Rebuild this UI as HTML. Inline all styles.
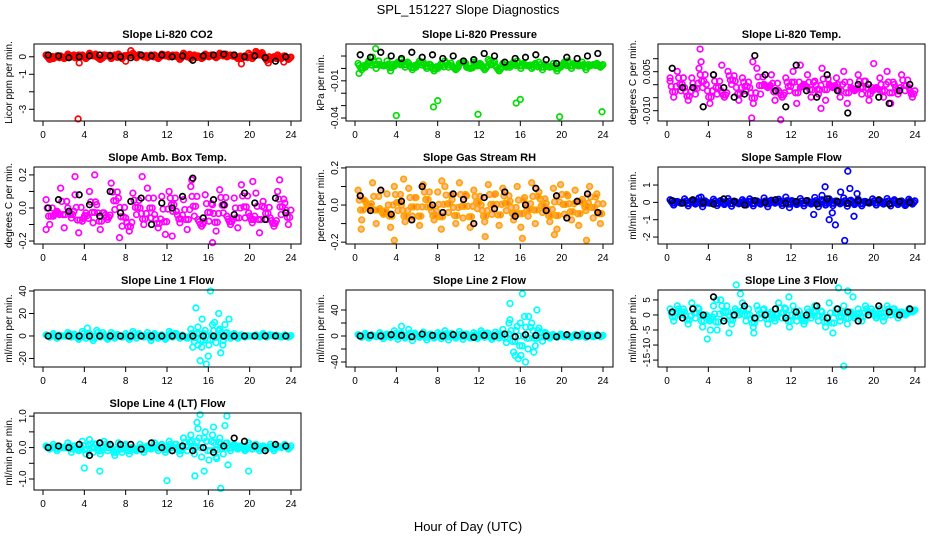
<!DOCTYPE html>
<html><head><meta charset="utf-8"><style>
body{margin:0;background:#fff;}
svg{display:block;font-family:"Liberation Sans",sans-serif;}
</style></head><body>
<svg id="chart" width="936" height="540" viewBox="0 0 936 540" xmlns="http://www.w3.org/2000/svg">
<rect width="936" height="540" fill="#fff"/>
<text x="468" y="14" font-size="13" text-anchor="middle">SPL_151227  Slope Diagnostics</text>
<text x="468" y="531" font-size="13" text-anchor="middle">Hour of Day (UTC)</text>
</svg>
<script>
const hoursA=[0.3,1.0,1.7,2.4,3.1,3.8,4.5,5.2,5.9,6.6,7.3,8.0,8.7,9.4,10.1,10.8,11.5,12.2,12.9,13.6,14.3,15.0,15.7,16.4,17.1,17.8,18.5,19.2,19.9,20.6,21.3,22.0,22.7,23.4];
const hoursB=[0.65,1.35,2.05,2.75,3.45,4.15,4.85,5.55,6.25,6.95,7.65,8.35,9.05,9.75,10.45,11.15,11.85,12.55,13.25,13.95,14.65,15.35,16.05,16.75,17.45,18.15,18.85,19.55,20.25,20.95,21.65,22.35,23.05,23.75];
const hoursK=[0.5,1.5,2.5,3.5,4.5,5.5,6.5,7.5,8.5,9.5,10.5,11.5,12.5,13.5,14.5,15.5,16.5,17.5,18.5,19.5,20.5,21.5,22.5,23.5];
const xTicks=[0,4,8,12,16,20,24];

const co2A=[0.1,-0.1,0.05,0.15,-0.05,0.1,0.2,0,0.1,-0.1,0.15,0.05,0.2,0.1,-0.05,0.1,0.15,0,0.1,0.2,-0.1,0.05,0.15,0.1,0.2,0,0.1,-0.1,0.2,0.3,0.1,-0.15,0.1,0.05];
const co2B=[-0.15,0.05,-0.1,0,0.1,-0.1,0.05,-0.15,0.05,0.1,-0.1,0.1,-0.05,0,0.1,-0.1,0.05,0.1,-0.15,0,0.1,-0.1,0,-0.05,0.05,0.1,-0.1,0.05,-0.1,0.1,-0.2,0,-0.1,-0.15];
const co2OutX=[3.4,3.5,8.0,19.2,21.8,23.3,8.5];
const co2OutY=[-3.55,-0.35,-0.25,-0.4,-0.35,-0.3,0.35];
const co2K=[0.1,0.05,-0.05,0,0.05,0.1,0.05,0,-0.05,0.1,0.05,0.1,0,0.05,-0.2,0.05,0.1,0.15,0.1,0,0.05,-0.05,-0.25,0];

const presA=[0.004,0.001,0.009,0.003,0.006,0.002,0.007,0.004,0.001,0.005,0.003,0,0.006,0.002,0.004,0.001,0.005,0.003,0.007,0.002,0.004,0.001,0.006,0.003,0,0.005,0.002,0.004,0.001,0.006,0.003,0.005,0.002,0.004];
const presB=[-0.001,0.006,0,0.002,-0.002,0.005,0.001,-0.001,0.006,0,-0.002,0.004,0.001,-0.001,0.005,0,0.002,-0.001,0.003,-0.002,0.001,0.005,0,0.002,0.004,-0.001,0.001,-0.002,0.005,0,0.002,-0.001,0.003,0.001];
const presOutX=[0.4,4.0,7.6,8.0,11.9,15.6,16.0,19.8,23.9,2.0];
const presOutY=[-0.004,-0.038,-0.031,-0.026,-0.037,-0.028,-0.025,-0.039,-0.035,0.016];
const presK=[0.011,0.009,0.013,0.010,0.008,0.013,0.009,0.011,0.008,0.010,0.006,0.007,0.012,0.010,0.005,0.008,0.009,0.011,0.007,0.004,0.009,0.008,0.010,0.012];

const tempA=[0.0014,0.0051,-0.0011,0.0026,0.0063,0.0001,0.0038,-0.0023,0.0051,0.0014,0.0026,-0.0011,0.0063,0.0001,0.0038,-0.0023,0.0026,0.0051,-0.0011,0.0038,0.0014,0.0063,0.0001,0.0026,0.0051,-0.0011,0.0038,0.0014,-0.0023,0.0026,0.0051,0.0001,0.0038,-0.0011];
const tempB=[-0.0048,-0.0023,-0.006,-0.0036,-0.0011,-0.0072,-0.0036,-0.0048,0.0001,-0.006,-0.0023,-0.0072,-0.0036,-0.0011,-0.006,-0.0048,-0.0023,-0.0072,0.0001,-0.0048,-0.0036,-0.006,-0.0011,-0.0048,-0.0072,-0.0023,-0.0036,-0.006,-0.0011,-0.0048,-0.0072,-0.0036,-0.0023,-0.0048];
const tempOutX=[3.2,3.3,8.2,11.0,14.9,12.9,20.0,5.3,8.3,0.3];
const tempOutY=[0.0137,0.0088,-0.0128,-0.0135,-0.0091,0.0075,0.0081,0.0075,0.0088,0.0026];
const tempK=[0.0063,-0.0011,-0.0011,-0.0085,0.0038,-0.0011,-0.0048,-0.0036,0.0112,0.0038,-0.0023,-0.0085,0.0075,-0.0023,-0.0048,0.0038,-0.0023,-0.0109,0.0001,0.0001,-0.0048,-0.0072,-0.0023,0.0001];

const ambA=[0.05,-0.05,0.12,0.0,0.08,-0.08,0.1,0.02,-0.03,0.15,0.06,-0.06,0.09,0.0,0.12,-0.04,0.07,0.1,-0.02,0.05,0.13,-0.07,0.08,0.02,0.11,-0.05,0.06,0.14,-0.03,0.09,0.04,-0.06,0.1,0.03];
const ambB=[-0.1,-0.02,-0.12,-0.06,-0.15,-0.03,-0.09,-0.13,-0.07,-0.01,-0.11,-0.14,-0.04,-0.1,-0.06,-0.12,-0.16,-0.02,-0.09,-0.13,-0.05,-0.11,-0.08,-0.14,-0.03,-0.1,-0.12,-0.06,-0.09,-0.15,-0.07,-0.11,-0.04,-0.1];
const ambOutX=[0.3,5.0,9.6,12.5,14.4,16.4,20.3,7.4,3.1,22.9];
const ambOutY=[-0.13,0.2,0.19,-0.17,0.17,-0.21,0.16,-0.18,0.19,0.17];
const ambK=[0.0,0.05,-0.02,0.08,0.02,-0.05,0.1,-0.03,0.04,0.06,-0.1,0.03,0.0,0.07,0.18,-0.06,0.05,0.02,-0.04,0.09,0.03,-0.07,0.06,-0.03];

const rhA=[0.08,0.02,0.12,-0.02,0.06,0.1,0.0,0.09,0.04,0.11,-0.01,0.07,0.1,0.03,0.12,0.05,0.08,0.0,0.11,0.06,0.09,0.02,0.1,0.04,0.12,0.07,0.01,0.09,0.11,0.05,0.08,0.03,0.1,0.06];
const rhB=[-0.08,-0.02,-0.1,-0.05,-0.12,-0.03,-0.09,-0.06,-0.11,-0.01,-0.08,-0.13,-0.04,-0.1,-0.07,-0.12,-0.02,-0.09,-0.05,-0.11,-0.03,-0.08,-0.12,-0.06,-0.1,-0.04,-0.09,-0.13,-0.05,-0.08,-0.11,-0.03,-0.07,-0.1];
const rhOutX=[0.6,3.8,12.6,16.2,19.3,22.4,8.4,4.7];
const rhOutY=[-0.13,-0.19,-0.17,-0.18,-0.16,-0.19,0.13,0.14];
const rhK=[0.05,-0.03,0.08,-0.05,0.02,-0.08,0.1,0.0,-0.04,0.06,0.03,-0.1,0.04,-0.02,0.07,-0.06,0.0,0.09,-0.03,0.05,-0.07,0.02,0.06,-0.04];

const sfA=[0.15,0.05,0.2,0.1,0.25,0.0,0.18,0.1,0.22,0.05,0.15,0.2,0.08,0.25,0.12,0.18,0.3,0.05,0.22,0.1,0.28,0.15,0.2,0.08,0.25,0.12,0.18,0.05,0.2,0.1,0.22,0.15,0.08,0.18];
const sfB=[-0.15,-0.05,-0.2,-0.1,-0.25,-0.05,-0.18,-0.12,-0.22,-0.08,-0.15,-0.2,-0.1,-0.25,-0.05,-0.18,-0.3,-0.12,-0.2,-0.1,-0.25,-0.15,-0.18,-0.08,-0.22,-0.12,-0.2,-0.05,-0.15,-0.1,-0.2,-0.12,-0.18,-0.1];
const sfOutX=[14.2,15.3,15.7,16.3,16.8,17.2,17.5,17.7,18.1,18.4,16.0,15.0,3.3];
const sfOutY=[-0.7,0.9,-1.0,-1.3,0.6,-2.2,1.8,0.8,-0.8,0.5,-0.6,0.4,0.3];
const sfK=[0.1,-0.05,0.15,0.0,-0.1,0.2,0.05,-0.15,0.1,0.0,0.15,-0.05,0.05,0.1,-0.1,0.2,0.05,-0.05,0.1,0.0,0.15,-0.1,0.05,0.0];

const l1A=[1,2,0,3,1,4,2,5,1,3,0,2,4,1,3,2,1,4,2,0,6,8,5,10,6,3,2,1,0,1,2,1,0,1];
const l1B=[-1,-2,0,-1,-3,-2,-4,-1,-3,-2,-1,-3,-2,-1,-4,-2,-3,-1,-2,-2,-5,-10,-8,-6,-4,-2,-2,-1,0,-1,-1,0,-1,-1];
const l1OutX=[14.8,15.2,15.4,15.8,16.2,16.6,17.0,17.2,17.6,18.0,15.0,16.0,4.3,17.4,14.5];
const l1OutY=[25,-22,15,-25,40,12,20,-15,10,15,-8,-18,7,-8,-10];
const l1K=[0,0,0,0,0,0,0,0,0,0,0,0,0,0,0,0,0,0,0,0,0,0,0,0];

const l2A=[2,4,1,5,3,8,4,10,2,6,3,5,8,4,7,3,5,8,4,6,10,25,15,30,20,12,4,2,3,1,2,3,1,2];
const l2B=[-2,-3,-1,-4,-2,-5,-3,-7,-2,-6,-3,-4,-6,-3,-5,-3,-4,-2,-5,-3,-10,-25,-30,-20,-15,-8,-3,-2,-1,-2,-1,-2,-1,-1];
const l2OutX=[15.0,15.5,16.2,16.5,16.8,17.3,17.6,15.8,16.0,4.5,14.9];
const l2OutY=[50,-30,65,-40,30,-25,40,-35,20,15,20];
const l2K=[0,1,0,2,1,-1,3,1,0,2,1,-2,1,0,3,-1,2,1,0,-1,2,1,0,1];

const l3A=[2,3,1,4,2,0,3,5,1,2,4,0,3,2,1,4,2,3,0,2,3,1,4,2,3,1,2,3,1,2,3,2,1,2];
const l3B=[-2,0,-3,-1,-4,-2,-5,-1,-3,0,-2,-4,-1,-3,-2,-1,-4,-2,-3,-1,-2,-4,-6,-2,-3,-1,-2,0,-1,-2,0,-1,0,1];
const l3OutX=[3.9,4.2,6.7,7.1,8.4,11.8,16.6,17.1,17.5,18.0,6.0,4.8];
const l3OutY=[-8,-5,10,7,-6,6,9,-17,8,6,-6,5];
const l3K=[1,-1,2,0,6,-2,0,3,-1,0,2,-1,1,0,3,-1,2,1,-2,0,3,1,0,2];

const l4A=[0.05,0.1,0.0,0.15,0.05,0.2,0.25,0.1,0.2,0.05,0.15,0.1,0.0,0.1,0.05,0.15,0.1,0.2,0.1,0.3,0.4,0.6,0.5,0.4,0.3,0.15,0.1,0.05,0.15,0.1,0.05,0.1,0.05,0.1];
const l4B=[-0.05,-0.1,0.0,-0.15,-0.1,-0.2,-0.15,-0.2,-0.1,-0.25,-0.15,-0.2,-0.1,-0.15,-0.05,-0.1,-0.15,-0.1,-0.2,-0.1,-0.2,-0.3,-0.4,-0.3,-0.2,-0.1,-0.05,-0.1,-0.05,-0.1,-0.05,-0.1,0.0,-0.05];
const l4OutX=[4.0,5.5,12.0,14.7,15.2,14.9,15.6,16.5,16.8,17.2,17.6,17.9,17.8,19.9,13.6];
const l4OutY=[-0.65,-0.75,-1.05,-0.9,1.05,0.8,-0.75,0.65,-0.35,-1.3,0.7,-0.55,1.0,-0.75,0.3];
const l4K=[0.0,0.05,0.0,0.1,-0.25,0.15,0.1,0.1,0.1,-0.05,0.15,0.0,-0.1,0.05,-0.1,0.0,-0.15,0.05,0.3,0.2,0.05,-0.1,0.1,0.05];

const panels=[
 {name:'co2',title:'Slope Li-820 CO2',yl:'Licor ppm per min.',col:0,row:0,color:'#ff0000',dom:[-3.67,0.73],ticks:[0,-1,-2,-3],labs:['0','-1','','-3'],A:co2A,B:co2B,ox:co2OutX,oy:co2OutY,K:co2K},
 {name:'pressure',title:'Slope Li-820 Pressure',yl:'kPa per min.',col:1,row:0,color:'#00dd00',dom:[-0.0424,0.0197],ticks:[0.01,0,-0.01,-0.02,-0.03,-0.04],labs:['','','-0.01','','','-0.04'],A:presA,B:presB,ox:presOutX,oy:presOutY,K:presK},
 {name:'temp',title:'Slope Li-820 Temp.',yl:'degrees C per min.',col:2,row:0,color:'#ff00ff',dom:[-0.01396,0.01565],ticks:[0.010,0.005,0,-0.005,-0.010],labs:['','0.005','','','-0.010'],A:tempA,B:tempB,ox:tempOutX,oy:tempOutY,K:tempK},
 {name:'amb-box',title:'Slope Amb. Box Temp.',yl:'degrees C per min.',col:0,row:1,color:'#ff00ff',dom:[-0.218,0.248],ticks:[0.2,0.1,0,-0.1,-0.2],labs:['0.2','','0.0','','-0.2'],A:ambA,B:ambB,ox:ambOutX,oy:ambOutY,K:ambK},
 {name:'gas-rh',title:'Slope Gas Stream RH',yl:'percent per min.',col:1,row:1,color:'#ffa500',fill:'rgba(255,60,0,0.35)',dom:[-0.21,0.205],ticks:[0.2,0.1,0,-0.1,-0.2],labs:['0.2','','0.0','','-0.2'],A:rhA,B:rhB,ox:rhOutX,oy:rhOutY,K:rhK},
 {name:'sample-flow',title:'Slope Sample Flow',yl:'ml/min per min.',col:2,row:1,color:'#0000ff',dom:[-2.4,2.04],ticks:[1,0,-1,-2],labs:['1','0','-1','-2'],A:sfA,B:sfB,ox:sfOutX,oy:sfOutY,K:sfK},
 {name:'line1',title:'Slope Line 1 Flow',yl:'ml/min per min.',col:0,row:2,color:'#00ffff',dom:[-27.6,40.9],ticks:[40,20,0,-20],labs:['40','20','0','-20'],A:l1A,B:l1B,ox:l1OutX,oy:l1OutY,K:l1K},
 {name:'line2',title:'Slope Line 2 Flow',yl:'ml/min per min.',col:1,row:2,color:'#00ffff',dom:[-47.7,70.8],ticks:[40,20,0,-20,-40],labs:['40','','0','','-40'],A:l2A,B:l2B,ox:l2OutX,oy:l2OutY,K:l2K},
 {name:'line3',title:'Slope Line 3 Flow',yl:'ml/min per min.',col:2,row:2,color:'#00ffff',dom:[-17.3,8.3],ticks:[5,0,-5,-10,-15],labs:['5','0','-5','-10','-15'],A:l3A,B:l3B,ox:l3OutX,oy:l3OutY,K:l3K},
 {name:'line4',title:'Slope Line 4 (LT) Flow',yl:'ml/min per min.',col:0,row:3,color:'#00ffff',dom:[-1.35,1.1],ticks:[1,0.5,0,-0.5,-1],labs:['1.0','','0.0','','-1.0'],A:l4A,B:l4B,ox:l4OutX,oy:l4OutY,K:l4K}
];
const colLeft=[34,346,658], rowTop=[44,167,290,413], PW=267, PH=77;
const NS='http://www.w3.org/2000/svg';
const svg=document.getElementById('chart');
function mk(tag,attrs,parent){const e=document.createElementNS(NS,tag);for(const k in attrs)e.setAttribute(k,attrs[k]);(parent||svg).appendChild(e);return e;}
panels.forEach(p=>{
 const L=colLeft[p.col],T=rowTop[p.row];
 const g=mk('g',{});
 
 
 const xs=h=>L+9+h*(248/24);
 const ys=v=>T+PH-(v-p.dom[0])/(p.dom[1]-p.dom[0])*PH;
 const t=mk('text',{x:L+PW/2,y:T-6,'font-size':11,'font-weight':'bold','text-anchor':'middle'},g);
 t.textContent=p.title;
 
 
 const yt=mk('text',{transform:`translate(${L-22},${T+PH/2}) rotate(-90)`,'font-size':10,'text-anchor':'middle'},g);
 yt.textContent=p.yl;
 
 
 const pts=mk('g',{fill:p.fill||'none','stroke-width':1.7},g);
 
 
 const dot=(x,y,c)=>{const cEl=mk('circle',{cx:xs(x).toFixed(1),cy:ys(y).toFixed(1),r:2.8,stroke:c},pts);
  
  };
 p.A.forEach((v,i)=>{const b=p.B[i];dot(hoursA[i],v,p.color);dot(hoursA[i]+0.12,(2*v+b)/3,p.color);dot(hoursA[i]+0.24,(v+2*b)/3,p.color);});
 p.B.forEach((v,i)=>{const a=p.A[i];dot(hoursB[i],v,p.color);dot(hoursB[i]+0.12,(2*v+a)/3,p.color);dot(hoursB[i]+0.24,(v+2*a)/3,p.color);});
 p.ox.forEach((x,i)=>dot(x,p.oy[i],p.color));
 p.K.forEach((v,i)=>dot(hoursK[i],v,'#000'));
 const box=mk('rect',{x:L,y:T,width:PW,height:PH,fill:'none',stroke:'#000','stroke-width':1},g);
 
 
 xTicks.forEach(h=>{mk('line',{x1:xs(h),x2:xs(h),y1:T+PH,y2:T+PH+5,stroke:'#000'},g);
  const tl=mk('text',{x:xs(h),y:T+PH+17,'font-size':10,'text-anchor':'middle'},g);tl.textContent=h;
  
  });
 p.ticks.forEach((v,i)=>{mk('line',{x1:L-5,x2:L,y1:ys(v),y2:ys(v),stroke:'#000'},g);
  if(p.labs[i]){const tl=mk('text',{transform:`translate(${L-8},${ys(v)}) rotate(-90)`,'font-size':10,'text-anchor':'middle'},g);tl.textContent=p.labs[i];
  
  }});
});
</script>
</body></html>
